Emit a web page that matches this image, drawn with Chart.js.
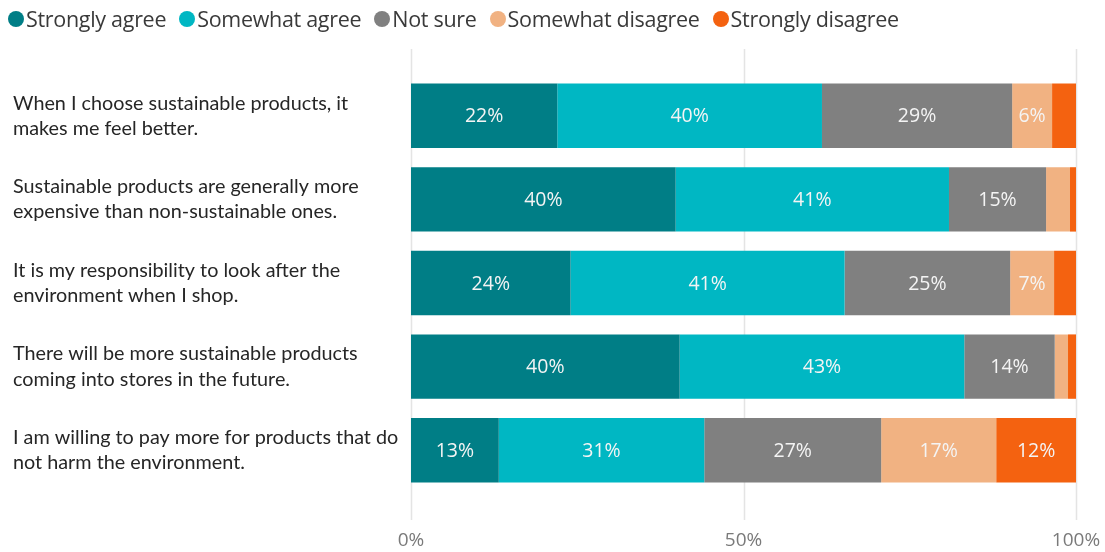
<!DOCTYPE html>
<html>
<head>
<meta charset="utf-8">
<script src="https://cdn.jsdelivr.net/npm/chart.js@4"></script>
<style>
  body { margin: 0; background: #fff; }
  #wrap { position: relative; width: 1105px; height: 552px; }
  #legend { position: absolute; top: 4px; left: 8px; display: flex; font-family: "Open Sans", sans-serif; font-size: 21.5px; color: #3a3a3a; letter-spacing: -0.3px; }
  #legend .item { display: flex; align-items: center; margin-right: 13px; }
  #legend .dot { width: 16px; height: 16px; border-radius: 50%; margin-right: 2px; }
</style>
</head>
<body>
<div id="wrap">
  <div id="legend"></div>
  <canvas id="surveyChart"></canvas>
</div>
<script>
const statements = [
    ['When I choose sustainable products, it', 'makes me feel better.'],
    ['Sustainable products are generally more', 'expensive than non-sustainable ones.'],
    ['It is my responsibility to look after the', 'environment when I shop.'],
    ['There will be more sustainable products', 'coming into stores in the future.'],
    ['I am willing to pay more for products that do', 'not harm the environment.']
];
const seriesNames = ['Strongly agree', 'Somewhat agree', 'Not sure', 'Somewhat disagree', 'Strongly disagree'];
const stronglyAgree = [22.0, 39.8, 24.0, 40.4, 13.2];
const somewhatAgree = [39.8, 41.1, 41.2, 42.8, 30.9];
const notSure = [28.6, 14.6, 24.9, 13.6, 26.6];
const somewhatDisagree = [6.0, 3.6, 6.6, 2.0, 17.3];
const stronglyDisagree = [3.6, 0.9, 3.3, 1.2, 12.0];
const xTicks = [0, 50, 100];

const colors = ['#007e86', '#00b7c3', '#808080', '#f1b282', '#f46210'];
const values = [stronglyAgree, somewhatAgree, notSure, somewhatDisagree, stronglyDisagree];

// html legend
const legendEl = document.getElementById('legend');
seriesNames.forEach((name, i) => {
    const item = document.createElement('div');
    item.className = 'item';
    item.innerHTML = '<span class="dot" style="background:' + colors[i] + '"></span><span>' + name + '</span>';
    legendEl.appendChild(item);
});

// gridlines that run past the plot area like the original
const gridPlugin = {
    id: 'tallGrid',
    beforeDatasetsDraw(chart) {
        const ctx = chart.ctx;
        const x = chart.scales.x;
        ctx.save();
        ctx.strokeStyle = '#e4e4e4';
        ctx.lineWidth = 1.5;
        xTicks.forEach(v => {
            const px = Math.round(x.getPixelForValue(v)) + 0.5;
            ctx.beginPath();
            ctx.moveTo(px, chart.chartArea.top - 25);
            ctx.lineTo(px, chart.chartArea.bottom + 28);
            ctx.stroke();
        });
        ctx.restore();
    }
};

// percentage labels inside the segments
const labelPlugin = {
    id: 'segLabels',
    afterDatasetsDraw(chart) {
        const ctx = chart.ctx;
        ctx.save();
        ctx.font = '19.5px "Open Sans", sans-serif';
        ctx.fillStyle = '#f4f4f4';
        ctx.textAlign = 'center';
        ctx.textBaseline = 'middle';
        chart.data.datasets.forEach((ds, i) => {
            chart.getDatasetMeta(i).data.forEach((bar, j) => {
                const v = ds.data[j];
                if (v < 5) return;
                ctx.fillText(Math.round(v) + '%', (bar.x + bar.base) / 2, bar.y + 1);
            });
        });
        ctx.restore();
    }
};

const ctx = document.getElementById('surveyChart').getContext('2d');
const chart = new Chart(ctx, {
    type: 'bar',
    data: {
        labels: statements,
        datasets: seriesNames.map((name, i) => ({
            label: name,
            data: values[i],
            backgroundColor: colors[i],
            borderWidth: 0,
            barPercentage: 0.77,
            categoryPercentage: 1
        }))
    },
    options: {
        indexAxis: 'y',
        responsive: true,
        maintainAspectRatio: false,
        animation: false,
        layout: { padding: { top: 74, left: 13, right: 0, bottom: 0 } },
        plugins: {
            legend: { display: false },
            tooltip: { enabled: false }
        },
        scales: {
            x: {
                stacked: true,
                min: 0,
                max: 100,
                afterBuildTicks: scale => { scale.ticks = xTicks.map(v => ({ value: v })); },
                afterFit: scale => {
                    scale.height = 60;
                    scale.paddingRight = 29;
                    scale.paddingLeft = 0;
                },
                grid: { display: false },
                border: { display: false },
                ticks: {
                    padding: 29,
                    color: '#7a7a7a',
                    font: { family: 'Open Sans', size: 19 },
                    callback: v => v + '%'
                }
            },
            y: {
                stacked: true,
                afterFit: scale => { scale.width = 398; },
                grid: { display: false },
                border: { display: false },
                ticks: {
                    crossAlign: 'far',
                    color: '#262626',
                    font: { family: 'Lato', size: 19.8, lineHeight: 1.27 }
                }
            }
        }
    },
    plugins: [gridPlugin, labelPlugin]
});
</script>
</body>
</html>
